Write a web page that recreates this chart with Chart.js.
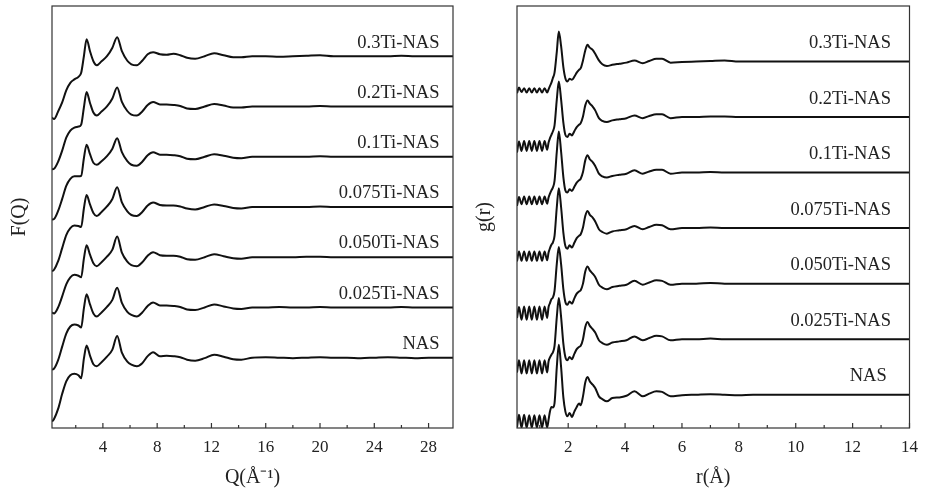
<!DOCTYPE html>
<html>
<head>
<meta charset="utf-8">
<script src="https://cdn.jsdelivr.net/npm/chart.js@4.4.1/dist/chart.umd.min.js"></script>
<style>
  body { margin: 0; background: #fff; }
  #wrap { position: relative; width: 927px; height: 495px; }
  #fq { position: absolute; left: 0; top: 0; }
  #gr { position: absolute; left: 465px; top: 0; }
</style>
</head>
<body>
<div id="wrap">
  <canvas id="fq" width="470" height="495"></canvas>
  <canvas id="gr" width="462" height="495"></canvas>
</div>
<script>
// sample names, bottom curve first
var sampleNames = ['NAS', '0.025Ti-NAS', '0.050Ti-NAS', '0.075Ti-NAS', '0.1Ti-NAS', '0.2Ti-NAS', '0.3Ti-NAS'];

// F(Q) curves
var qValues = [0.25, 0.4, 0.7, 1.0, 1.3, 1.6, 1.9, 2.2, 2.4, 2.6, 2.8, 3.05, 3.3, 3.55, 3.9, 4.3, 4.7, 5.05, 5.4, 5.8, 6.1, 6.5, 6.9, 7.3, 7.7, 8.2, 8.7, 9.2, 9.7, 10.2, 10.8, 11.5, 12.2, 12.9, 13.6, 14.2, 15, 16, 17, 18, 19, 20, 21, 22, 23, 24, 25, 26, 27, 28, 29, 29.8];
var fqNAS = [-1.27, -1.22, -1.02, -0.72, -0.47, -0.35, -0.32, -0.35, -0.41, -0.02, 0.24, 0.04, -0.13, -0.17, -0.09, 0.02, 0.16, 0.43, 0.10, -0.08, -0.14, -0.17, -0.11, 0.03, 0.11, 0.03, 0.04, 0.03, 0.01, -0.04, -0.06, -0.01, 0.06, 0.02, -0.03, -0.04, 0.0, 0.01, 0.0, -0.01, 0.0, 0.01, 0.0, 0.0, -0.01, 0.0, 0.01, 0.0, -0.01, 0.0, 0.0, 0.0];
var fq025 = [-1.24, -1.22, -1.05, -0.78, -0.52, -0.38, -0.34, -0.36, -0.40, -0.02, 0.26, 0.06, -0.12, -0.18, -0.10, 0.01, 0.15, 0.39, 0.09, -0.09, -0.15, -0.18, -0.10, 0.03, 0.10, 0.04, 0.04, 0.03, 0.01, -0.04, -0.05, 0.0, 0.06, 0.02, -0.02, -0.03, 0.0, 0.0, 0.01, 0.0, 0.0, 0.01, 0.0, 0.0, 0.0, 0.0, 0.0, 0.01, 0.0, 0.0, 0.0, 0.0];
var fq050 = [-1.10, -1.12, -1.00, -0.78, -0.54, -0.40, -0.35, -0.37, -0.40, -0.03, 0.24, 0.05, -0.12, -0.18, -0.10, 0.01, 0.15, 0.41, 0.09, -0.09, -0.16, -0.18, -0.10, 0.03, 0.10, 0.04, 0.03, 0.03, 0.01, -0.04, -0.05, 0.0, 0.06, 0.02, -0.02, -0.03, 0.0, 0.0, 0.0, 0.0, 0.01, 0.01, 0.0, 0.0, 0.0, 0.0, 0.0, 0.0, 0.0, 0.0, 0.0, 0.0];
var fq075 = [-1.28, -1.25, -1.08, -0.82, -0.56, -0.42, -0.37, -0.38, -0.40, -0.03, 0.24, 0.05, -0.12, -0.18, -0.10, 0.01, 0.16, 0.39, 0.09, -0.09, -0.16, -0.18, -0.10, 0.03, 0.09, 0.04, 0.03, 0.03, 0.01, -0.03, -0.05, 0.0, 0.05, 0.02, -0.02, -0.03, 0.0, 0.0, 0.0, 0.0, 0.0, 0.01, 0.0, 0.0, 0.0, 0.0, 0.0, 0.0, 0.0, 0.0, 0.0, 0.0];
var fq01 = [-1.25, -1.24, -1.08, -0.84, -0.58, -0.44, -0.39, -0.39, -0.38, -0.03, 0.24, 0.05, -0.12, -0.16, -0.09, 0.01, 0.16, 0.37, 0.09, -0.09, -0.16, -0.18, -0.10, 0.03, 0.09, 0.04, 0.04, 0.03, 0.01, -0.04, -0.05, 0.0, 0.05, 0.02, -0.02, -0.03, 0.0, 0.0, 0.0, 0.0, 0.0, 0.01, 0.0, 0.0, 0.0, 0.0, 0.0, 0.0, 0.0, 0.0, 0.0, 0.0];
var fq02 = [-1.25, -1.24, -1.10, -0.88, -0.62, -0.48, -0.42, -0.40, -0.36, -0.02, 0.29, 0.07, -0.12, -0.18, -0.10, 0.0, 0.16, 0.38, 0.09, -0.09, -0.16, -0.18, -0.10, 0.03, 0.09, 0.04, 0.04, 0.03, 0.01, -0.04, -0.05, 0.0, 0.05, 0.02, -0.02, -0.02, 0.0, 0.0, 0.0, 0.0, 0.0, 0.01, 0.0, 0.0, 0.0, 0.0, 0.0, 0.0, 0.0, 0.0, 0.0, 0.0];
var fq03 = [-1.22, -1.25, -1.10, -0.92, -0.68, -0.53, -0.46, -0.41, -0.33, 0.0, 0.34, 0.10, -0.10, -0.18, -0.10, 0.0, 0.17, 0.38, 0.10, -0.09, -0.16, -0.18, -0.09, 0.04, 0.08, 0.04, 0.03, 0.05, 0.02, -0.03, -0.05, 0.0, 0.06, 0.02, -0.02, -0.02, 0.0, 0.0, -0.01, 0.0, 0.01, 0.02, 0.0, 0.0, 0.0, 0.0, 0.0, 0.01, 0.0, 0.0, 0.0, 0.0];

// g(r) curves
var rValues = [0.2, 0.27, 0.36, 0.45, 0.54, 0.63, 0.72, 0.81, 0.9, 0.99, 1.08, 1.17, 1.26, 1.31, 1.36, 1.41, 1.46, 1.52, 1.6, 1.67, 1.75, 1.83, 1.9, 1.97, 2.05, 2.13, 2.22, 2.3, 2.38, 2.44, 2.52, 2.6, 2.68, 2.76, 2.86, 2.95, 3.08, 3.2, 3.36, 3.55, 3.8, 4.05, 4.33, 4.62, 4.85, 5.1, 5.3, 5.6, 6.0, 6.5, 7.0, 7.5, 8.0, 8.5, 9, 10, 11, 12, 13, 14];
var grNAS = [-0.59, -0.36, -0.59, -0.36, -0.59, -0.37, -0.59, -0.37, -0.59, -0.37, -0.59, -0.37, -0.59, -0.45, -0.30, -0.22, -0.23, -0.15, 0.50, 0.90, 0.50, -0.05, -0.30, -0.39, -0.33, -0.40, -0.30, -0.22, -0.16, -0.19, -0.03, 0.22, 0.32, 0.24, 0.18, 0.12, -0.03, -0.08, -0.12, -0.06, -0.05, -0.02, 0.06, -0.03, 0.02, 0.06, 0.05, -0.03, -0.01, 0.0, 0.01, 0.0, -0.01, 0.0, 0.0, 0.0, 0.0, 0.0, 0.0, 0.0];
var gr025 = [-0.60, -0.38, -0.62, -0.38, -0.62, -0.38, -0.62, -0.38, -0.62, -0.38, -0.62, -0.38, -0.60, -0.40, -0.33, -0.28, -0.24, -0.12, 0.40, 0.74, 0.40, -0.08, -0.32, -0.38, -0.32, -0.36, -0.26, -0.18, -0.14, -0.12, 0.0, 0.22, 0.31, 0.24, 0.18, 0.12, -0.02, -0.07, -0.10, -0.06, -0.04, -0.02, 0.05, -0.02, 0.02, 0.06, 0.05, -0.02, 0.0, 0.0, 0.01, 0.0, 0.0, 0.0, 0.0, 0.0, 0.0, 0.0, 0.0, 0.0];
var gr050 = [-0.62, -0.42, -0.65, -0.41, -0.65, -0.41, -0.65, -0.41, -0.65, -0.41, -0.65, -0.41, -0.62, -0.42, -0.35, -0.28, -0.25, -0.13, 0.36, 0.66, 0.35, -0.10, -0.33, -0.38, -0.32, -0.36, -0.26, -0.18, -0.14, -0.12, 0.0, 0.22, 0.31, 0.24, 0.18, 0.12, -0.02, -0.07, -0.10, -0.06, -0.04, -0.02, 0.05, -0.02, 0.02, 0.06, 0.05, -0.02, 0.0, 0.0, 0.01, 0.0, 0.0, 0.0, 0.0, 0.0, 0.0, 0.0, 0.0, 0.0];
var gr075 = [-0.60, -0.42, -0.59, -0.42, -0.59, -0.42, -0.59, -0.42, -0.59, -0.42, -0.59, -0.42, -0.58, -0.44, -0.36, -0.30, -0.26, -0.14, 0.38, 0.72, 0.38, -0.08, -0.32, -0.37, -0.31, -0.35, -0.26, -0.18, -0.14, -0.11, 0.01, 0.22, 0.31, 0.24, 0.19, 0.12, -0.02, -0.07, -0.10, -0.06, -0.04, -0.02, 0.04, -0.02, 0.02, 0.06, 0.05, -0.02, 0.0, 0.0, 0.01, 0.0, 0.0, 0.0, 0.0, 0.0, 0.0, 0.0, 0.0, 0.0];
var gr01 = [-0.60, -0.44, -0.57, -0.43, -0.57, -0.43, -0.57, -0.43, -0.57, -0.43, -0.57, -0.43, -0.56, -0.45, -0.38, -0.32, -0.27, -0.15, 0.38, 0.74, 0.38, -0.08, -0.32, -0.36, -0.30, -0.33, -0.25, -0.18, -0.14, -0.11, 0.01, 0.22, 0.31, 0.24, 0.19, 0.12, -0.02, -0.07, -0.09, -0.06, -0.04, -0.02, 0.04, -0.02, 0.02, 0.05, 0.05, -0.02, 0.0, 0.0, 0.01, 0.0, 0.0, 0.0, 0.0, 0.0, 0.0, 0.0, 0.0, 0.0];
var gr02 = [-0.64, -0.44, -0.61, -0.43, -0.61, -0.43, -0.61, -0.43, -0.61, -0.43, -0.61, -0.43, -0.59, -0.46, -0.38, -0.32, -0.26, -0.15, 0.32, 0.64, 0.32, -0.10, -0.32, -0.36, -0.30, -0.33, -0.25, -0.18, -0.14, -0.11, 0.01, 0.21, 0.30, 0.24, 0.19, 0.12, -0.02, -0.07, -0.09, -0.06, -0.04, -0.02, 0.03, -0.02, 0.02, 0.05, 0.05, -0.02, 0.0, 0.0, 0.01, 0.01, 0.0, 0.0, 0.0, 0.0, 0.0, 0.0, 0.0, 0.0];
var gr03 = [-0.57, -0.47, -0.55, -0.48, -0.56, -0.48, -0.56, -0.48, -0.56, -0.48, -0.56, -0.48, -0.56, -0.50, -0.44, -0.38, -0.30, -0.20, 0.18, 0.54, 0.28, -0.10, -0.30, -0.36, -0.31, -0.33, -0.27, -0.20, -0.15, -0.12, 0.02, 0.20, 0.30, 0.25, 0.21, 0.14, 0.02, -0.05, -0.08, -0.06, -0.04, -0.02, 0.02, -0.03, 0.01, 0.05, 0.05, -0.02, -0.01, 0.0, 0.01, 0.02, 0.0, 0.0, 0.0, 0.0, 0.0, 0.0, 0.0, 0.0];

// axis ticks
var qTicks = [4, 8, 12, 16, 20, 24, 28];
var qMinorTicks = [2, 6, 10, 14, 18, 22, 26];
var rTicks = [2, 4, 6, 8, 10, 12, 14];
var rMinorTicks = [1, 3, 5, 7, 9, 11, 13];

var fqSeries = [fqNAS, fq025, fq050, fq075, fq01, fq02, fq03];
var grSeries = [grNAS, gr025, gr050, gr075, gr01, gr02, gr03];

Chart.defaults.font.family = "'Liberation Serif', 'Times New Roman', serif";
Chart.defaults.color = '#222';

// frame, inward ticks and curve names
var framePlugin = {
  id: 'frame',
  afterDatasetsDraw: function(chart, args, opts) {
    var ctx = chart.ctx;
    var area = chart.chartArea;
    var xs = chart.scales.x;
    var ys = chart.scales.y;
    ctx.save();
    ctx.strokeStyle = '#333';
    ctx.lineWidth = 1.2;
    ctx.strokeRect(area.left, area.top, area.right - area.left, area.bottom - area.top);
    ctx.beginPath();
    opts.major.forEach(function(v) {
      var px = xs.getPixelForValue(v);
      ctx.moveTo(px, area.bottom);
      ctx.lineTo(px, area.bottom - 5);
    });
    opts.minor.forEach(function(v) {
      var px = xs.getPixelForValue(v);
      ctx.moveTo(px, area.bottom);
      ctx.lineTo(px, area.bottom - 3);
    });
    ctx.stroke();

    ctx.fillStyle = '#222';
    ctx.font = "18.5px 'Liberation Serif', serif";
    ctx.textAlign = 'right';
    ctx.textBaseline = 'middle';
    chart.data.datasets.forEach(function(ds, i) {
      var lx = xs.getPixelForValue(i === 0 ? opts.firstLabelX : opts.labelX);
      var ly = ys.getPixelForValue(opts.base + i + opts.labelLift);
      ctx.fillText(ds.label, lx, ly);
    });
    ctx.restore();
  }
};

function buildDatasets(xValues, series, base) {
  return series.map(function(vals, i) {
    return {
      label: sampleNames[i],
      data: xValues.map(function(x, j) {
        return { x: x, y: vals[j] + base + i };
      }),
      borderColor: '#111',
      borderWidth: 2,
      pointRadius: 0,
      fill: false,
      cubicInterpolationMode: 'monotone'
    };
  });
}

function makeChart(canvasId, cfg) {
  return new Chart(document.getElementById(canvasId), {
    type: 'line',
    data: { datasets: buildDatasets(cfg.xValues, cfg.series, cfg.base) },
    options: {
      responsive: false,
      animation: false,
      layout: { padding: { top: 6, right: cfg.padRight, bottom: 0, left: 0 } },
      plugins: {
        legend: { display: false },
        tooltip: { enabled: false },
        frame: {
          major: cfg.ticks,
          minor: cfg.minor,
          base: cfg.base,
          labelX: cfg.labelX,
          firstLabelX: cfg.firstLabelX,
          labelLift: cfg.labelLift
        }
      },
      scales: {
        x: {
          type: 'linear',
          min: cfg.xMin,
          max: cfg.xMax,
          grid: { display: false, drawTicks: false },
          border: { display: false },
          ticks: { padding: 9, font: { size: 17 }, color: '#222' },
          afterBuildTicks: function(scale) {
            scale.ticks = cfg.ticks.map(function(v) { return { value: v }; });
          },
          afterFit: function(scale) { scale.height = 67; },
          title: { display: true, text: cfg.xTitle, font: { size: 20 }, padding: { top: 0, bottom: 5 } }
        },
        y: {
          min: 0,
          max: cfg.yMax,
          grid: { display: false, drawTicks: false },
          border: { display: false },
          ticks: { display: false },
          afterFit: function(scale) { scale.width = 52; },
          title: { display: true, text: cfg.yTitle, font: { size: 20 }, padding: { top: 8, bottom: 0 } }
        }
      }
    },
    plugins: [framePlugin]
  });
}

makeChart('fq', {
  xValues: qValues, series: fqSeries, base: 1.4, yMax: 8.4,
  xMin: 0.25, xMax: 29.8, padRight: 17,
  ticks: qTicks, minor: qMinorTicks,
  labelX: 28.8, firstLabelX: 28.8, labelLift: 0.27,
  xTitle: 'Q(Å⁻¹)', yTitle: 'F(Q)'
});

makeChart('gr', {
  xValues: rValues, series: grSeries, base: 0.6, yMax: 7.6,
  xMin: 0.2, xMax: 14, padRight: 9,
  ticks: rTicks, minor: rMinorTicks,
  labelX: 13.35, firstLabelX: 13.2, labelLift: 0.33,
  xTitle: 'r(Å)', yTitle: 'g(r)'
});
</script>
</body>
</html>
